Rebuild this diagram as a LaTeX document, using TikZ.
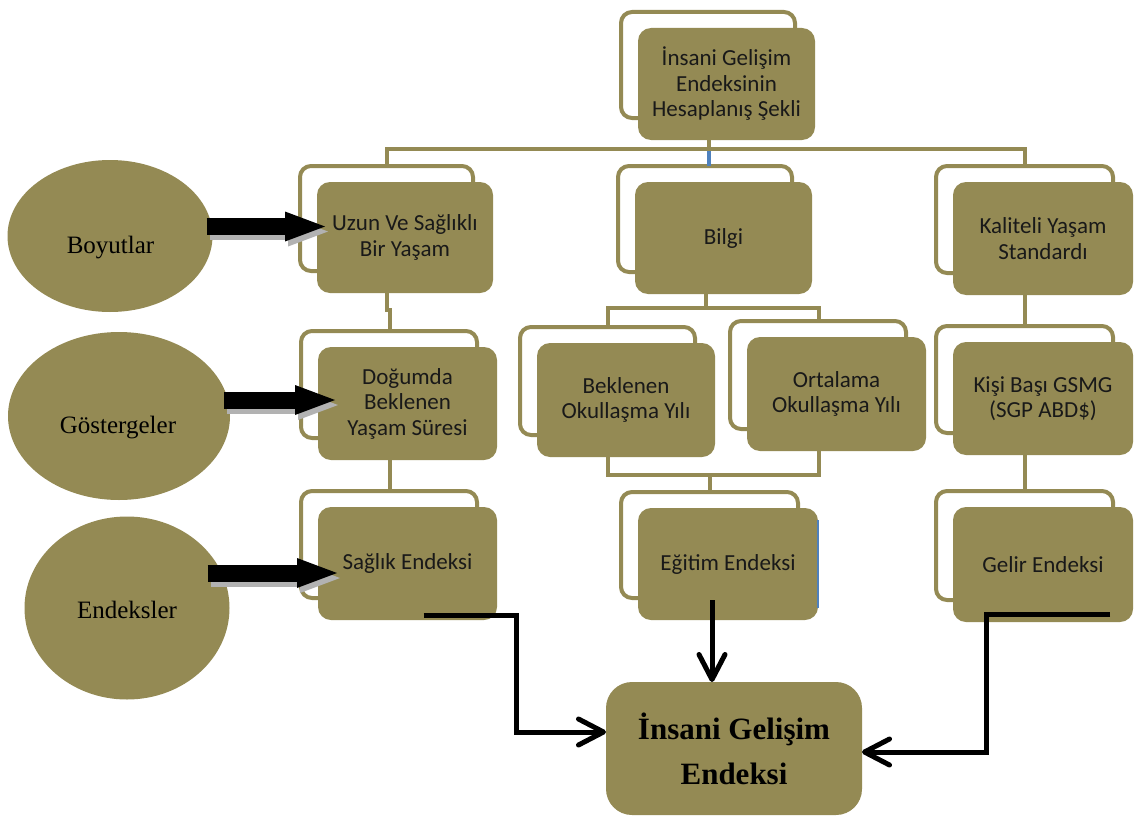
\documentclass[tikz,border=0pt]{standalone}
\usepackage{fontspec}
\setmainfont{Liberation Serif}
\newfontfamily\calib{Carlito}
\usetikzlibrary{shapes.geometric,arrows.meta,calc}
\definecolor{tanolive}{HTML}{948A54}
\definecolor{linkblue}{HTML}{4F81BD}
\newcommand\tbox[6]{%
  \draw[frame] (#2-17,#3-16) rectangle (#4-20,#5-22);
  \node[box, minimum width={#4-#2}, minimum height={#5-#3}] (#1) at ({(#2+#4)/2},{(#3+#5)/2}) {#6};
  \coordinate (#1-t) at ({(#2+#4)/2-18},#3-16);
  \coordinate (#1-b) at ({(#2+#4)/2-18},#5);
}
\begin{document}
\begin{tikzpicture}[x=1pt,y=-1pt,
  frame/.style={draw=tanolive, line width=4pt, rounded corners=11pt},
  box/.style={fill=tanolive, rounded corners=13pt, inner sep=0pt, outer sep=0pt, align=center,
    text=black!90, font=\calib\fontsize{23}{25.5}\selectfont},
  bigbox/.style={fill=tanolive, rounded corners=26pt, inner sep=0pt, outer sep=0pt, align=center,
    text=black, font=\bfseries\fontsize{31}{45}\selectfont},
  link/.style={draw=tanolive, line width=4pt},
  bluelink/.style={draw=linkblue, line width=4pt},
  ell/.style={ellipse, fill=tanolive, inner sep=0pt, outer sep=0pt},
  elltext/.style={anchor=base, text=black, font=\fontsize{25}{30}\selectfont},
  blk/.style={line width=17pt, -{Triangle[length=40pt,width=30pt,line width=0pt]}},
  elbow/.style={line width=5pt, black, -{Straight Barb[length=25pt,width=26pt,round]}}
]
\useasboundingbox (0,0) rectangle (1134,816);
\fill[white] (0,0) rectangle (1134,816);

% boxes
\tbox{top}{638}{28}{815}{140}{İnsani Gelişim\\Endeksinin\\Hesaplanış Şekli}
\tbox{uzun}{317}{182}{493}{293}{Uzun Ve Sağlıklı\\Bir Yaşam}
\tbox{bilgi}{635}{182}{812}{294}{Bilgi}
\tbox{kal}{953}{182}{1133}{295}{Kaliteli Yaşam\\Standardı}
\tbox{dog}{318}{347}{497}{460}{Doğumda\\Beklenen\\Yaşam Süresi}
\tbox{bek}{537}{343}{715}{457}{Beklenen\\Okullaşma Yılı}
\tbox{ort}{747}{337}{926}{451}{Ortalama\\Okullaşma Yılı}
\tbox{kisi}{953}{342}{1133}{455}{Kişi Başı GSMG\\(SGP ABD\$)}
\tbox{sag}{318}{507}{497}{620}{Sağlık Endeksi}
\tbox{egt}{638}{508}{818}{620}{Eğitim Endeksi}
\tbox{gel}{953}{507}{1133}{622}{Gelir Endeksi}
\draw[linkblue, line width=1.2pt] ([yshift=-12pt]egt.north east) -- ([yshift=12pt]egt.south east);

\node[bigbox, minimum width=256, minimum height=133] (ige) at (734,748.5) {İnsani Gelişim\\Endeksi};

% tree links
\draw[link] (top-b) -- ++(0,9) coordinate (tj);
\draw[link] (uzun-t) |- (tj) -| (kal-t);
\draw[bluelink] ([yshift=-2pt]tj) -- (tj |- bilgi-t);
\draw[link] (uzun-b) -- ++(0,17) -| (dog-t);
\draw[link] (dog-b) -- (sag-t);
\draw[link] (bilgi-b) -- ++(0,14) coordinate (bj);
\draw[link] (bek-t) |- (bj) -| (ort-t);
\coordinate (ej) at ([yshift=17pt]egt-t);
\draw[link] (bek-b) |- (ej) -| (ort-b);
\draw[link] (ej) -- (egt-t);
\draw[link] (kal-b) -- (kisi-t);
\draw[link] (kisi-b) -- (gel-t);

% ellipses
\node[ell, minimum width=205, minimum height=152] (boy) at (110,236) {};
\node[elltext] at (110.5,253) {Boyutlar};
\node[ell, minimum width=222, minimum height=168] (gos) at (119,416) {};
\node[elltext] at (118,433) {Göstergeler};
\node[ell, minimum width=205, minimum height=183] (ends) at (127,608) {};
\node[elltext] at (127,618) {Endeksler};

% block arrows with shadow
\begin{scope}[transform canvas={xshift=3pt,yshift=-5pt}]
\draw[blk, black!30] ([xshift=-6pt,yshift=9.5pt]boy.east) -- ([xshift=8pt,yshift=11pt]uzun.west);
\draw[blk, black!30] ([xshift=-6pt,yshift=16pt]gos.east) -- ([xshift=17pt,yshift=3.5pt]dog.west);
\draw[blk, black!30] ([xshift=-22pt,yshift=35pt]ends.east) -- ([xshift=19pt,yshift=-9.5pt]sag.west);
\end{scope}
\draw[blk, black] ([xshift=-6pt,yshift=9.5pt]boy.east) -- ([xshift=8pt,yshift=11pt]uzun.west);
\draw[blk, black] ([xshift=-6pt,yshift=16pt]gos.east) -- ([xshift=17pt,yshift=3.5pt]dog.west);
\draw[blk, black] ([xshift=-22pt,yshift=35pt]ends.east) -- ([xshift=19pt,yshift=-9.5pt]sag.west);

% elbow connectors to the index
\draw[elbow] ([xshift=16pt,yshift=5pt]sag.south) -| ($(ige.west)+(-90,-16.5)$) -- ([yshift=16.5pt]ige.west);
\draw[elbow] ([xshift=-16pt,yshift=20pt]egt.south) -- ([xshift=-22pt]ige.north);
\draw[elbow] ([xshift=67pt,yshift=8pt]gel.south) -| ($(ige.east)+(124,3.5)$) -- ([yshift=-3.5pt]ige.east);
\end{tikzpicture}
\end{document}
